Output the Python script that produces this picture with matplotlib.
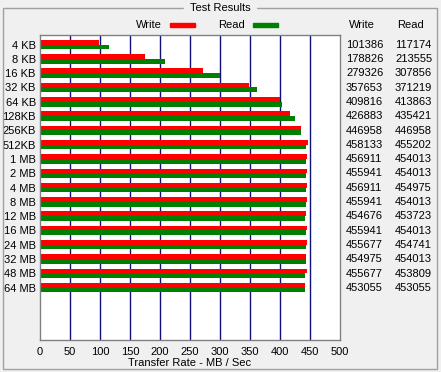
#!/usr/bin/env python3
"""Disk benchmark test results chart (transfer rate per block size)."""

import matplotlib.pyplot as plt
import numpy as np
from matplotlib.patches import Rectangle

block_sizes = ['4 KB', '8 KB', '16 KB', '32 KB', '64 KB', '128KB', '256KB', '512KB',
               '1 MB', '2 MB', '4 MB', '8 MB', '12 MB', '16 MB', '24 MB', '32 MB',
               '48 MB', '64 MB']
write_kb = [101386, 178826, 279326, 357653, 409816, 426883, 446958, 458133,
            456911, 455941, 456911, 455941, 454676, 455941, 455677, 454975,
            455677, 453055]
read_kb = [117174, 213555, 307856, 371219, 413863, 435421, 446958, 455202,
           454013, 454013, 454975, 454013, 453723, 454013, 454741, 454013,
           453809, 453055]
x_ticks = [0, 50, 100, 150, 200, 250, 300, 350, 400, 450, 500]

W, H = 441, 372
BG = '#f0f0f0'
FS = 8
plt.rcParams['font.family'] = ['Liberation Sans', 'DejaVu Sans']
plt.rcParams['font.size'] = FS

fig = plt.figure(figsize=(W / 100, H / 100), dpi=100, facecolor=BG)


def fx(px):
    return px / W


def fy(py):
    return 1 - py / H


# group box frame
fig.patches.append(Rectangle((fx(3), fy(369)), fx(434), (369 - 8) / H,
                             transform=fig.transFigure, fill=False,
                             edgecolor='#a0a0a0', linewidth=1))
fig.text(fx(220), fy(8), 'Test Results', ha='center', va='center',
         backgroundcolor=BG, fontsize=FS)

# plot area
ax = fig.add_axes([fx(40), fy(340), fx(299.5), 305 / H])
ax.set_facecolor('white')

y = np.arange(len(block_sizes))
write_mb = np.array(write_kb) / 1024
read_mb = np.array(read_kb) / 1024
bh = 0.33

for g in x_ticks[1:-1]:
    ax.axvline(g, color='#10107a', linewidth=1, zorder=1)

ax.barh(y - bh / 2, write_mb, height=bh, color='#ff0000', zorder=2)
ax.barh(y + bh / 2, read_mb, height=bh, color='#008000', zorder=2)

ax.set_xlim(0, 500)
ax.set_ylim(20.66, -0.671)
ax.set_xticks(x_ticks)
ax.set_yticks(y)
ax.set_yticklabels(block_sizes, fontsize=FS)
ax.tick_params(length=0, pad=3)
ax.tick_params(axis='x', labelsize=FS, pad=5)
ax.set_xlabel('Transfer Rate - MB / Sec', fontsize=FS, labelpad=1)
for s in ax.spines.values():
    s.set_color('#808080')
    s.set_linewidth(1)

# legend
fig.text(fx(162), fy(25), 'Write', ha='right', va='center', fontsize=FS)
fig.patches.append(Rectangle((fx(170), fy(27)), fx(25), 4 / H,
                             transform=fig.transFigure, color='#ff0000'))
fig.text(fx(245), fy(25), 'Read', ha='right', va='center', fontsize=FS)
fig.patches.append(Rectangle((fx(253), fy(27)), fx(25), 4 / H,
                             transform=fig.transFigure, color='#008000'))

# value columns
fig.text(fx(349), fy(25), 'Write', ha='left', va='center', fontsize=FS)
fig.text(fx(397), fy(25), 'Read', ha='left', va='center', fontsize=FS)
for i, (w, r) in enumerate(zip(write_kb, read_kb)):
    yp = 44.8 + 14.3 * i
    fig.text(fx(346), fy(yp), str(w), ha='left', va='center', fontsize=FS)
    fig.text(fx(395), fy(yp), str(r), ha='left', va='center', fontsize=FS)

fig.savefig('out.png', dpi=100, facecolor=BG)
